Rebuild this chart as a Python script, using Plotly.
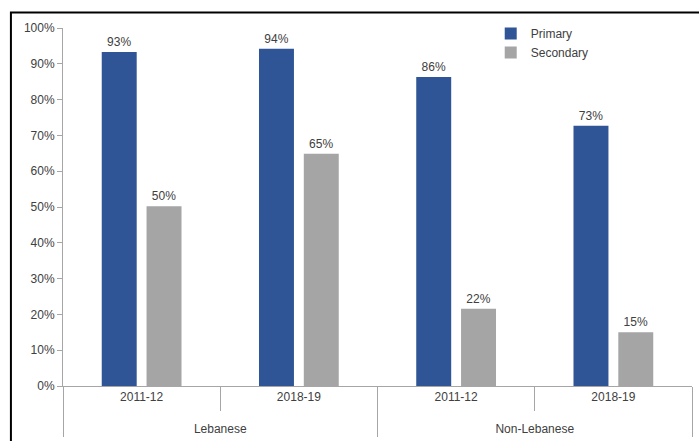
import plotly.graph_objects as go

groups = ["Lebanese", "Lebanese", "Non-Lebanese", "Non-Lebanese"]
years = ["2011-12", "2018-19", "2011-12", "2018-19"]
primary = [93.3, 94.2, 86.3, 72.7]
secondary = [50.2, 64.9, 21.6, 15.0]
primary_labels = ["93%", "94%", "86%", "73%"]
secondary_labels = ["50%", "65%", "22%", "15%"]

font = "Liberation Sans, Arial, sans-serif"
txt = "#404040"

# extra blank line under the year labels pushes the group labels lower
year_ticks = [y + "<br> " for y in years]
xcats = [groups, year_ticks]

fig = go.Figure()
fig.add_trace(go.Bar(x=xcats, y=primary, name="Primary",
                     marker=dict(color="#2F5597", line=dict(width=0)),
                     text=primary_labels, textposition="outside",
                     textfont=dict(size=12, color=txt), cliponaxis=False))
fig.add_trace(go.Bar(x=xcats, y=secondary, name="Secondary",
                     marker=dict(color="#A5A5A5", line=dict(width=0)),
                     text=secondary_labels, textposition="outside",
                     textfont=dict(size=12, color=txt), cliponaxis=False))

fig.update_layout(
    width=699, height=441,
    margin=dict(l=63, r=7, t=28, b=55),
    paper_bgcolor="white", plot_bgcolor="white",
    font=dict(family=font, size=12, color=txt),
    barmode="group", bargap=0.43, bargroupgap=0.22,
    showlegend=True,
    legend=dict(x=0.68, y=1.025, xanchor="left", yanchor="top",
                font=dict(size=12), tracegroupgap=0,
                bgcolor="rgba(0,0,0,0)"),
    xaxis=dict(type="multicategory", automargin=False, showline=True,
               linecolor="#A6A6A6", linewidth=1, ticks="outside",
               tickson="boundaries", ticklen=24, tickcolor="#A6A6A6",
               showdividers=True, dividercolor="#A6A6A6", dividerwidth=1,
               tickfont=dict(size=12, color=txt)),
    yaxis=dict(range=[0, 100], dtick=10, ticksuffix="%", showgrid=False,
               automargin=False, showline=True, linecolor="#A6A6A6",
               linewidth=1, ticks="outside", ticklen=5, tickcolor="#A6A6A6",
               zeroline=False, tickfont=dict(size=12, color=txt)),
    shapes=[dict(type="rect", xref="paper", yref="paper",
                 x0=-0.0828, x1=1.05, y0=-0.3, y1=1.0433,
                 line=dict(color="black", width=2), fillcolor="rgba(0,0,0,0)",
                 layer="below")],
)

fig.write_html("out.html")
